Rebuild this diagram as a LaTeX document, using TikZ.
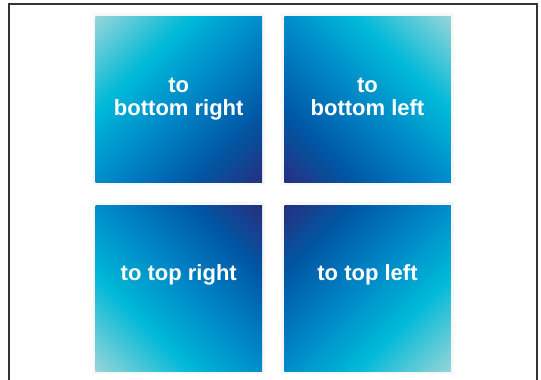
\documentclass[tikz,border=0pt]{standalone}
\usepackage{fontspec}
\setmainfont{Liberation Sans}
\definecolor{g0}{HTML}{95D5D8}
\definecolor{g1}{HTML}{00B9D8}
\definecolor{g2}{HTML}{0085C6}
\definecolor{g3}{HTML}{0058A5}
\definecolor{g4}{HTML}{25307F}
\definecolor{framecol}{HTML}{333333}
\pgfdeclarehorizontalshading{cssgrad}{100bp}{color(0bp)=(g0); color(14.64bp)=(g0); color(35bp)=(g1); color(53bp)=(g2); color(70bp)=(g3); color(85.36bp)=(g4); color(100bp)=(g4)}
\begin{document}
\begin{tikzpicture}[x=1pt,y=-1pt,
  gbox/.style={rectangle, minimum width=166.5pt, minimum height=166pt, inner sep=0pt, shading=cssgrad},
  halo/.style={fill=black!3},
  lab/.style={text=white, font=\fontsize{22}{23}\selectfont\bfseries, inner sep=0pt, anchor=base},
  frameline/.style={draw=framecol, line width=1.2pt}]
\fill[white] (0,0) rectangle (541,380);
\useasboundingbox (0,0) rectangle (541,380);
\draw[frameline] (9,380) -- (9,4) -- (537,4) -- (537,380);
% halos
\fill[halo] (92.5,13) rectangle (265,185);
\fill[halo] (281,13) rectangle (454,185);
\fill[halo] (92.5,202) rectangle (265,374);
\fill[halo] (281,202) rectangle (454,374);
% gradient boxes
\node[gbox, shading angle=-45] (br) at (178.75,99) {};
\node[gbox, shading angle=-135] (bl) at (367.5,99) {};
\node[gbox, shading angle=45] (tr) at (178.75,288) {};
\node[gbox, shading angle=135] (tl) at (367.5,288) {};
% labels
\node[lab] (lbr) at (178.75,92) {\parbox[t]{160pt}{\centering to\\bottom right}};
\node[lab] (lbl) at (367.5,92) {\parbox[t]{160pt}{\centering to\\bottom left}};
\node[lab] (ltr) at (178.75,280) {to top right};
\node[lab] (ltl) at (367.5,280) {to top left};
\end{tikzpicture}
\end{document}
